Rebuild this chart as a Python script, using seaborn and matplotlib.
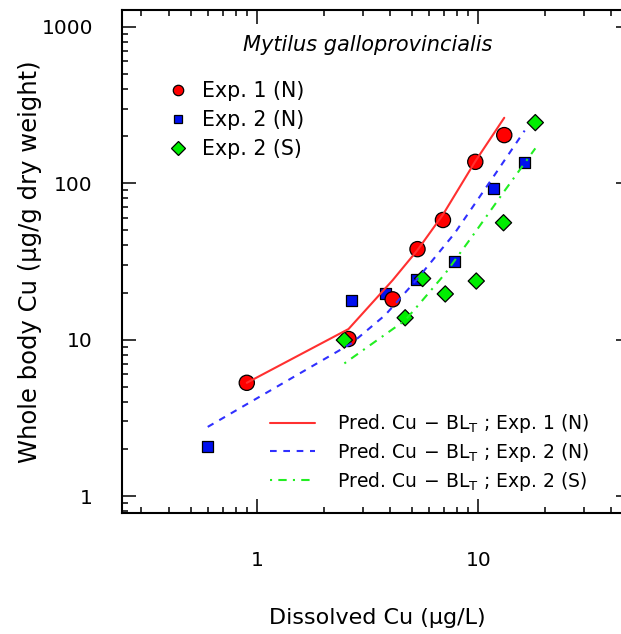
import matplotlib
matplotlib.use("Agg")
import numpy as np
import pandas as pd
import seaborn as sns
import matplotlib.pyplot as plt
from matplotlib.ticker import LogLocator, FuncFormatter, NullFormatter

# ---- observed whole-body Cu vs dissolved Cu ----
exp1_n_cu = [0.898, 2.59, 4.10, 5.31, 6.92, 9.69, 13.1]
exp1_n_body = [5.30, 10.1, 18.1, 37.9, 58.2, 137, 203]

exp2_n_cu = [0.598, 2.68, 3.80, 5.24, 7.81, 11.7, 16.2]
exp2_n_body = [2.09, 17.9, 19.6, 24.3, 31.5, 92.7, 136]

exp2_s_cu = [2.48, 4.67, 5.60, 7.09, 9.79, 13.0, 18.1]
exp2_s_body = [9.94, 13.8, 24.6, 19.6, 23.7, 55.9, 244]

# ---- Cu-BL_T model predictions ----
pred_exp1_n = [5.3, 11.7, 24.0, 37.4, 63.0, 138, 262]
pred_exp2_n = [2.77, 9.5, 14.4, 24.0, 47.8, 110, 217]
pred_exp2_s = [7.05, 13.3, 17.9, 26.5, 49.7, 87.5, 167]

groups = ["Exp. 1 (N)", "Exp. 2 (N)", "Exp. 2 (S)"]
models = [r"Pred. Cu$\,-\,$BL$_{\mathrm{T}}$ ; " + g for g in groups]

x_ticks = [1, 10]
y_ticks = [1, 10, 100, 1000]

sns.set_style("ticks")
plt.rcParams["font.family"] = ["DejaVu Sans"]
plt.rcParams["mathtext.fontset"] = "dejavusans"
plt.rcParams["text.color"] = "black"
plt.rcParams["axes.labelcolor"] = "black"
plt.rcParams["xtick.color"] = "black"
plt.rcParams["ytick.color"] = "black"

fig = plt.figure(figsize=(6.21, 6.34), dpi=100)
ax = fig.add_axes([122 / 621, 1 - 513 / 634, 508 / 621, 503 / 634])
ax.set_xscale("log")
ax.set_yscale("log")

# draw order: blue squares under red circles under green diamonds
obs = pd.concat([
    pd.DataFrame({"cu": exp2_n_cu, "body": exp2_n_body, "group": groups[1]}),
    pd.DataFrame({"cu": exp1_n_cu, "body": exp1_n_body, "group": groups[0]}),
    pd.DataFrame({"cu": exp2_s_cu, "body": exp2_s_body, "group": groups[2]}),
], ignore_index=True)

pt_colors = {groups[0]: "#ff0000", groups[1]: "#0010f0", groups[2]: "#00ee00"}
pt_markers = {groups[0]: "o", groups[1]: "s", groups[2]: "D"}
pt_sizes = {groups[0]: 120, groups[1]: 62, groups[2]: 68}

sns.scatterplot(data=obs, x="cu", y="body", hue="group", style="group", size="group",
                hue_order=groups, style_order=groups, size_order=groups,
                palette=pt_colors, markers=pt_markers, sizes=pt_sizes,
                edgecolor="black", linewidth=0.9, ax=ax, legend="full")
leg = ax.get_legend()
h1, l1 = [], []
for h, t in zip(leg.legend_handles, leg.get_texts()):
    if t.get_text() in groups:
        h1.append(h)
        l1.append(t.get_text())
leg.remove()

pred = pd.concat([
    pd.DataFrame({"cu": exp1_n_cu, "body": pred_exp1_n, "model": models[0]}),
    pd.DataFrame({"cu": exp2_n_cu, "body": pred_exp2_n, "model": models[1]}),
    pd.DataFrame({"cu": exp2_s_cu, "body": pred_exp2_s, "model": models[2]}),
], ignore_index=True)

ln_colors = {models[0]: "#ff3030", models[1]: "#3030ff", models[2]: "#22ee22"}
ln_dashes = {models[0]: "", models[1]: (3.2, 3.2), models[2]: (1, 3, 4, 3)}

sns.lineplot(data=pred, x="cu", y="body", hue="model", style="model",
             hue_order=models, style_order=models, palette=ln_colors,
             dashes=ln_dashes, sort=False, estimator=None, linewidth=1.5,
             ax=ax, legend="full")
leg = ax.get_legend()
h2, l2 = [], []
for h, t in zip(leg.legend_handles, leg.get_texts()):
    if t.get_text() in models:
        h2.append(h)
        l2.append(t.get_text())
leg.remove()

ax.set_xlim(0.245, 48.5)
ax.set_ylim(0.78, 1280)

for axis, ticks in ((ax.xaxis, x_ticks), (ax.yaxis, y_ticks)):
    axis.set_major_locator(LogLocator(base=10))
    axis.set_minor_locator(LogLocator(base=10, subs=np.arange(2, 10)))
    axis.set_major_formatter(FuncFormatter(lambda v, p: f"{v:g}"))
    axis.set_minor_formatter(NullFormatter())

ax.tick_params(which="both", direction="in", top=True, right=True, width=1.1,
               colors="black", labelsize=14.5)
ax.tick_params(which="major", length=10)
ax.tick_params(which="minor", length=4.5)
ax.tick_params(axis="x", which="major", pad=27)
ax.tick_params(axis="y", which="major", pad=21)

for sp in ax.spines.values():
    sp.set_linewidth(1.5)
    sp.set_color("black")

ax.set_xlabel("Dissolved Cu (µg/L)", fontsize=16, color="black")
ax.set_ylabel("Whole body Cu (µg/g dry weight)", fontsize=17.5, color="black")
ax.xaxis.label.set_va("center")
ax.yaxis.label.set_va("center")
ax.xaxis.set_label_coords(0.502, -0.2087)
ax.yaxis.set_label_coords(-0.181, 0.5)

ax.text(0.484, 0.930, "Mytilus galloprovincialis", transform=ax.transAxes,
        ha="center", va="center", fontsize=15, style="italic", color="black")

lg1 = ax.legend(h1, l1, loc="center left",
                bbox_to_anchor=(167.7 / 621, 1 - 120 / 634),
                bbox_transform=fig.transFigure, frameon=False, fontsize=14.8,
                handlelength=1.0, handletextpad=0.67, labelspacing=0.45,
                borderpad=0, borderaxespad=0, labelcolor="black")
legend_ms = {groups[0]: 7.5, groups[1]: 5.8, groups[2]: 7.0}
for h, lab in zip(lg1.legend_handles, l1):
    if hasattr(h, "set_markersize"):
        h.set_markersize(legend_ms.get(lab, 6))
    elif hasattr(h, "set_sizes"):
        h.set_sizes([legend_ms.get(lab, 6) ** 2])
    if hasattr(h, "set_markeredgewidth"):
        h.set_markeredgewidth(0.9)
ax.add_artist(lg1)

ax.legend(h2, l2, loc="center left",
          bbox_to_anchor=(270 / 621, 1 - 452.5 / 634),
          bbox_transform=fig.transFigure, frameon=False, fontsize=13.5,
          handlelength=2.4, handletextpad=1.15, labelspacing=0.3,
          borderpad=0, borderaxespad=0, labelcolor="black")

fig.savefig("out.png", dpi=100)
